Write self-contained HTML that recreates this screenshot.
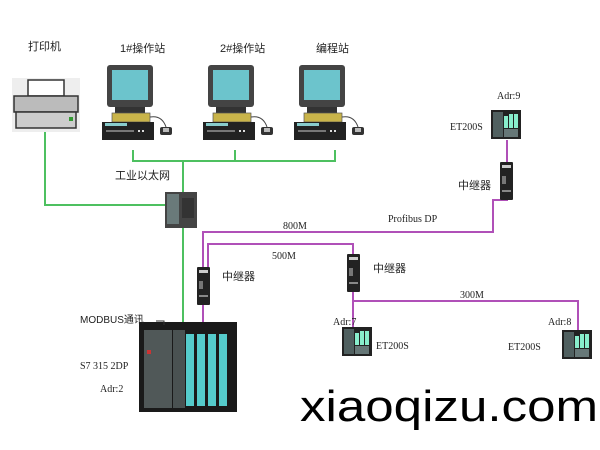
<!DOCTYPE html>
<html><head><meta charset="utf-8"><style>
html,body{margin:0;padding:0;background:#fff;width:600px;height:450px;overflow:hidden}
svg text{font-family:"Liberation Serif","Noto Serif CJK SC",serif;font-size:10px;fill:#222}
.cj{font-family:"Liberation Sans","Noto Sans CJK SC",sans-serif;font-size:11px}
</style></head><body>
<svg width="600" height="450" viewBox="0 0 600 450" xmlns="http://www.w3.org/2000/svg">
<defs>
<g id="pc">
  <rect x="5" y="0" width="46" height="42" rx="3" fill="#444"/>
  <rect x="10" y="5" width="36" height="30" fill="#6cc4cc"/>
  <rect x="13" y="42" width="30" height="6" fill="#333"/>
  <rect x="10" y="48" width="38" height="9" fill="#c9b44a" stroke="#555" stroke-width="0.7"/>
  <rect x="0" y="57" width="52" height="18" fill="#222"/>
  <rect x="3" y="58" width="22" height="3" fill="#8cc"/>
  <rect x="4" y="65" width="28" height="2" fill="#777"/>
  <rect x="36" y="65" width="2" height="2" fill="#ddd"/><rect x="40" y="65" width="2" height="2" fill="#ddd"/>
  <path d="M48 52 Q60 50 64 62" stroke="#444" fill="none"/>
  <rect x="58" y="62" width="12" height="8" rx="2" fill="#333"/>
  <rect x="61" y="63" width="6" height="4" fill="#bbb"/>
</g>
<g id="et">
  <rect x="0" y="0" width="30" height="29" fill="#222"/>
  <rect x="2" y="2" width="10" height="25" fill="#506060"/>
  <rect x="13" y="6" width="4" height="12" fill="#8ec"/><rect x="18" y="4" width="4" height="14" fill="#8ec"/><rect x="23" y="4" width="4" height="14" fill="#8ec"/>
  <rect x="13" y="19" width="14" height="8" fill="#677"/>
</g>
<g id="rep">
  <rect x="0" y="0" width="13" height="38" rx="1" fill="#222"/>
  <rect x="2" y="3" width="9" height="3" fill="#ccc"/>
  <rect x="2" y="14" width="4" height="8" fill="#777"/>
  <rect x="2" y="28" width="9" height="2" fill="#888"/>
</g>
</defs>

<g stroke="#4dc060" stroke-width="2" fill="none">
  <polyline points="45,130 45,205 167,205"/>
  <polyline points="133,150 133,161 335,161 335,150"/>
  <line x1="235" y1="150" x2="235" y2="161"/>
  <line x1="183" y1="161" x2="183" y2="195"/>
  <line x1="183" y1="228" x2="183" y2="325"/>
</g>
<g stroke="#b050b8" stroke-width="2" fill="none">
  <polyline points="203,325 203,232 493,232 493,200 507,200 507,140"/>
  <polyline points="208,268 208,244 353,244 353,310"/>
  <polyline points="353,301 578,301 578,335"/>
  <line x1="353" y1="301" x2="353" y2="330"/>
</g>

<rect x="12" y="78" width="68" height="54" fill="#eee"/>
<rect x="28" y="80" width="36" height="16" fill="#fff" stroke="#333" stroke-width="1.5"/>
<rect x="14" y="96" width="64" height="16" fill="#bbb" stroke="#333" stroke-width="1.5"/>
<rect x="16" y="112" width="60" height="16" fill="#ccc" stroke="#333" stroke-width="1.5"/>
<rect x="69" y="117" width="4" height="4" fill="#393"/>

<use href="#pc" x="102" y="65"/>
<use href="#pc" x="203" y="65"/>
<use href="#pc" x="294" y="65"/>

<rect x="165" y="192" width="32" height="36" fill="#444"/>
<rect x="167" y="194" width="12" height="30" fill="#6a7a7a"/>
<rect x="182" y="198" width="12" height="20" fill="#333"/>

<rect x="139" y="322" width="98" height="90" fill="#1a1a1a"/>
<rect x="144" y="330" width="28" height="78" fill="#505858"/>
<rect x="173" y="330" width="12" height="78" fill="#4a5252"/>
<rect x="186" y="334" width="8" height="72" fill="#5cc"/><rect x="197" y="334" width="8" height="72" fill="#5cc"/>
<rect x="208" y="334" width="8" height="72" fill="#5cc"/><rect x="219" y="334" width="8" height="72" fill="#5cc"/>
<rect x="147" y="350" width="4" height="4" fill="#c33"/>

<use href="#rep" x="197" y="267"/>
<use href="#rep" x="347" y="254"/>
<use href="#rep" x="500" y="162"/>
<use href="#et" x="491" y="110"/>
<use href="#et" x="342" y="327"/>
<use href="#et" x="562" y="330"/>

<text class="cj" x="28" y="50">打印机</text>
<text class="cj" x="120" y="52">1#操作站</text>
<text class="cj" x="220" y="52">2#操作站</text>
<text class="cj" x="316" y="52">编程站</text>
<text class="cj" x="115" y="179">工业以太网</text>
<text x="283" y="229">800M</text>
<text x="388" y="222">Profibus DP</text>
<text x="272" y="259">500M</text>
<text class="cj" x="222" y="280">中继器</text>
<text class="cj" x="373" y="272">中继器</text>
<text class="cj" x="458" y="189">中继器</text>
<text x="450" y="130">ET200S</text>
<text x="497" y="99">Adr:9</text>
<text x="460" y="298">300M</text>
<text x="333" y="325">Adr:7</text>
<text x="376" y="349">ET200S</text>
<text x="548" y="325">Adr:8</text>
<text x="508" y="350">ET200S</text>
<text class="cj" x="80" y="323" style="font-size:10px">MODBUS通讯</text>
<path d="M156 321 H164 V325" stroke="#333" fill="none"/>
<text x="80" y="369">S7 315 2DP</text>
<text x="100" y="392">Adr:2</text>
<text x="300" y="421" textLength="298" lengthAdjust="spacingAndGlyphs" style="font-family:'Liberation Sans',sans-serif;font-size:44px;fill:#000">xiaoqizu.com</text>
</svg>
</body></html>
